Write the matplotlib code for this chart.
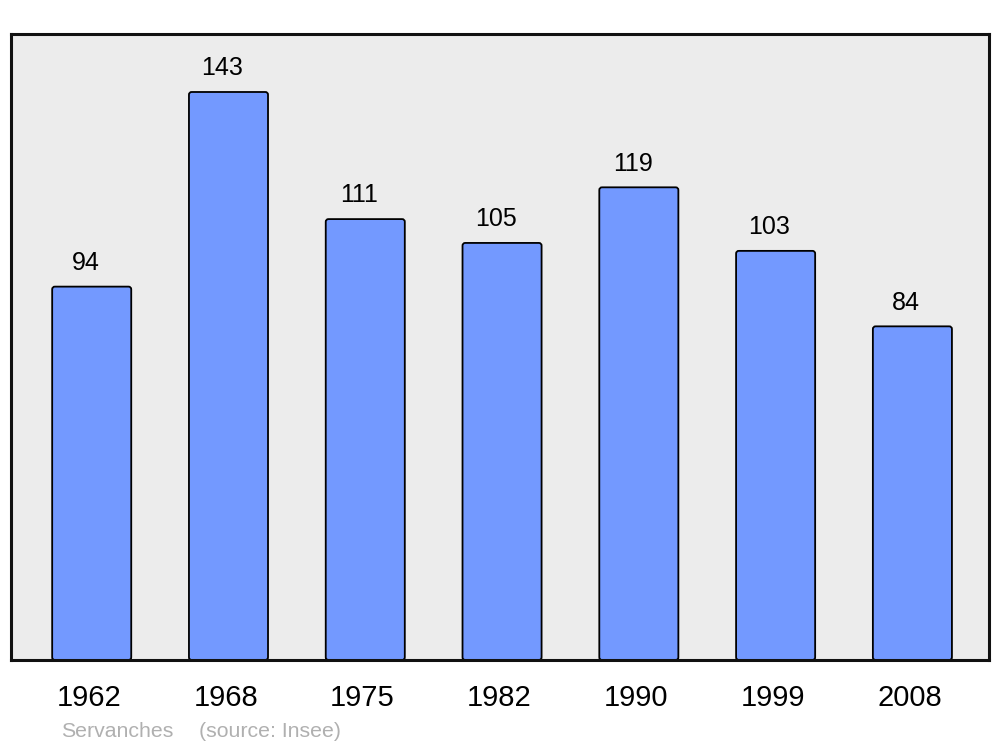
import matplotlib.pyplot as plt
from matplotlib.patches import FancyBboxPatch

plt.rcParams['font.family'] = ['Liberation Sans', 'DejaVu Sans']

years = ['1962', '1968', '1975', '1982', '1990', '1999', '2008']
population = [94, 143, 111, 105, 119, 103, 84]
commune = 'Servanches'
source = '(source: Insee)'

fig = plt.figure(figsize=(10, 7.47), dpi=100)
ax = fig.add_axes([0.011, 1 - 660 / 747, 0.978, 626 / 747])
ax.set_facecolor('#ececec')

bars = ax.bar(range(len(years)), population, width=0.578, color='#7399ff',
              edgecolor='black', linewidth=1.3, zorder=2)

# swap plain rectangles for slightly rounded ones
for b in bars:
    x, y = b.get_x(), b.get_y()
    w, h = b.get_width(), b.get_height()
    b.set_visible(False)
    p = FancyBboxPatch((x, y), w, h, boxstyle='round,pad=0,rounding_size=0.02',
                       mutation_aspect=157.6 / 7.15 * 978 / 626,
                       facecolor='#7399ff', edgecolor='black', linewidth=1.3,
                       zorder=2)
    ax.add_patch(p)

for i, v in enumerate(population):
    ax.annotate(str(v), (i, v), xytext=(-4.5, 12), textcoords='offset points',
                ha='center', va='baseline', fontsize=18)

ax.set_xlim(-0.59, 6.56)
ax.set_ylim(0, 157.6)
ax.set_xticks([])
ax.set_yticks([])
for i, yr in enumerate(years):
    ax.annotate(yr, (i, 0), xytext=(-2, -33), textcoords='offset points',
                ha='center', va='baseline', fontsize=21, annotation_clip=False)
for s in ax.spines.values():
    s.set_linewidth(2.2)
    s.set_color('#111111')

fig.text(0.061, 10 / 747, commune, fontsize=15.3, color='#b0b0b0',
         ha='left', va='baseline')
fig.text(0.199, 10 / 747, source, fontsize=15.3, color='#b0b0b0',
         ha='left', va='baseline')

fig.savefig('out.png', dpi=100, facecolor='white')
